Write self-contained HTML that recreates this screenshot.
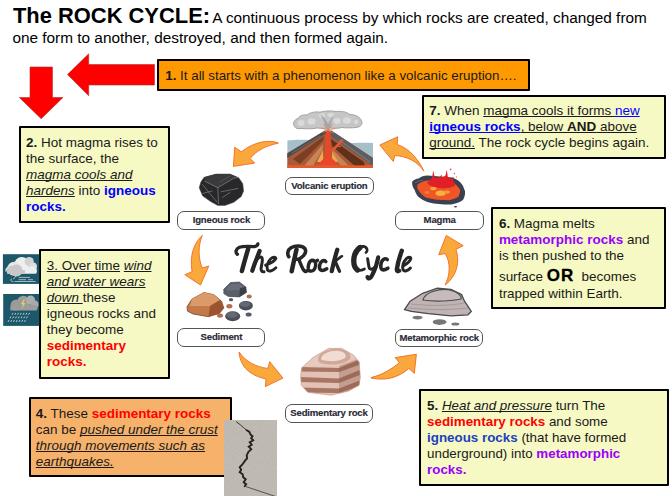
<!DOCTYPE html>
<html><head><meta charset="utf-8">
<style>
*{margin:0;padding:0;box-sizing:border-box}
html,body{width:672px;height:496px;overflow:hidden;background:#fff}
body{position:relative;font-family:"Liberation Sans",sans-serif;color:#111}
.a{position:absolute}
.box{position:absolute;border:2.1px solid #000;border-radius:1px}
.y{background:#f6f9c4}
.l{position:absolute;font-size:13.47px;line-height:16px;height:16px;white-space:nowrap;color:#1a1a1a}
u{text-decoration:underline;text-underline-offset:1px;text-decoration-skip-ink:none;text-decoration-thickness:1px}
.r{color:#ff0000;font-weight:bold}
.bl{color:#0000ff;font-weight:bold}
.pu{color:#9900ff;font-weight:bold}
.lbl{position:absolute;border:1.6px solid #555;border-radius:7px;background:#fff;font-weight:bold;font-size:9.6px;color:#2a2a36;text-align:center;letter-spacing:-0.2px;-webkit-text-stroke:0.15px #2a2a36}
</style></head><body>

<!-- title -->
<div class="a" style="left:13px;top:2px;white-space:nowrap;color:#000">
  <div style="height:26px;line-height:27px"><span style="font-size:21.9px;font-weight:bold">The ROCK CYCLE:</span><span style="font-size:15.34px;margin-left:-1.2px"> A continuous process by which rocks are created, changed from</span></div>
  <div style="font-size:15.36px;height:20px;line-height:20px;margin-left:-0.6px">one form to another, destroyed, and then formed again.</div>
</div>

<!-- red arrows -->
<svg class="a" style="left:0;top:0" width="672" height="496">
  <polygon points="67.5,74.5 88.7,53.8 88.7,64.5 154.5,64.5 154.5,85 88.7,85 88.7,95.8" fill="#ff0000" stroke="#b03030" stroke-width="0.6"/>
  <polygon points="30,67 52.5,67 52.5,97.5 63,97.5 41.2,118.8 19.3,97.5 30,97.5" fill="#ff0000" stroke="#b03030" stroke-width="0.6"/>
</svg>

<!-- box 1 -->
<div class="box" style="left:157.2px;top:59.1px;width:372.50px;height:31.70px;background:#ff9900"></div>
<div class="l" style="left:165.30px;top:68.30px"><span style="font-size:13.33px"><b>1.</b> It all starts with a phenomenon like a volcanic eruption….</span></div>

<!-- box 2 -->
<div class="box" style="left:18.8px;top:126.0px;width:151.10px;height:96.90px;background:#f6f9c4"></div>
<div class="l" style="left:26.10px;top:135.20px"><b>2.</b> Hot magma rises to</div>
<div class="l" style="left:26.10px;top:151.15px">the surface, the</div>
<div class="l" style="left:26.10px;top:167.10px"><i><u>magma cools and</u></i></div>
<div class="l" style="left:26.10px;top:183.05px"><i><u>hardens</u></i> into <span class="bl">igneous</span></div>
<div class="l" style="left:26.10px;top:199.00px"><span class="bl">rocks.</span></div>

<!-- box 3 -->
<div class="box" style="left:39.1px;top:249.3px;width:130.80px;height:129.40px;background:#f6f9c4"></div>
<div class="l" style="left:46.70px;top:258.30px"><u>3. Over time</u> <i><u>wind</u></i></div>
<div class="l" style="left:46.70px;top:274.25px"><i><u>and water wears</u></i></div>
<div class="l" style="left:46.70px;top:290.20px"><i><u>down </u></i>these</div>
<div class="l" style="left:46.70px;top:306.15px">igneous rocks and</div>
<div class="l" style="left:46.70px;top:322.10px">they become</div>
<div class="l" style="left:46.70px;top:338.05px"><span class="r">sedimentary</span></div>
<div class="l" style="left:46.70px;top:354.00px"><span class="r">rocks.</span></div>

<!-- box 4 -->
<div class="box" style="left:28.5px;top:397.1px;width:203.60px;height:80.40px;background:#f6b26b"></div>
<div class="l" style="left:35.80px;top:406.30px"><b>4.</b> These <span class="r">sedimentary rocks</span></div>
<div class="l" style="left:35.80px;top:422.25px">can be <i><u>pushed under the crust</u></i></div>
<div class="l" style="left:35.80px;top:438.20px"><i><u>through movements such as</u></i></div>
<div class="l" style="left:35.80px;top:454.15px"><i><u>earthquakes.</u></i></div>

<!-- box 5 -->
<div class="box" style="left:419.3px;top:389.1px;width:249.60px;height:96.60px;background:#f6f9c4"></div>
<div class="l" style="left:427.00px;top:398.30px;font-size:13.38px"><b>5.</b> <i><u>Heat and pressure</u></i> turn The</div>
<div class="l" style="left:427.00px;top:414.25px;font-size:13.38px"><span class="r">sedimentary rocks</span> and some</div>
<div class="l" style="left:427.00px;top:430.20px;font-size:13.38px"><span class="bl" style="color:#1c40c0">igneous rocks</span> (that have formed</div>
<div class="l" style="left:427.00px;top:446.15px;font-size:13.38px">underground) into <span class="pu">metamorphic</span></div>
<div class="l" style="left:427.00px;top:462.10px;font-size:13.38px"><span class="pu">rocks.</span></div>

<!-- box 6 -->
<div class="box" style="left:491.3px;top:207.1px;width:174.90px;height:102.40px;background:#f6f9c4"></div>
<div class="l" style="left:498.90px;top:216.40px"><b>6.</b> Magma melts</div>
<div class="l" style="left:498.90px;top:232.10px"><span class="pu">metamorphic rocks</span> and</div>
<div class="l" style="left:498.90px;top:248.20px">is then pushed to the</div>
<div class="l" style="left:498.90px;top:268.00px">surface <b style="font-size:17px;color:#000;-webkit-text-stroke:0.3px #000;letter-spacing:0.9px">OR</b>&nbsp; becomes</div>
<div class="l" style="left:498.90px;top:285.90px">trapped within Earth.</div>

<!-- box 7 -->
<div class="box" style="left:422.35px;top:94.5px;width:243.75px;height:64.40px;background:#f6f9c4"></div>
<div class="l" style="left:429.30px;top:103.10px"><b>7.</b> When <u>magma cools it forms </u><u style="color:#0000ff">new</u></div>
<div class="l" style="left:429.30px;top:119.10px"><u style="color:#0000ff"><b>igneous rocks</b></u><u>, below <b>AND</b> above</u></div>
<div class="l" style="left:429.30px;top:135.00px"><u>ground.</u> The rock cycle begins again.</div>
<!-- center graphics -->
<svg class="a" style="left:0;top:0" width="672" height="496">
  <defs>
    <clipPath id="vclip"><rect x="287.5" y="108" width="85.5" height="60"/></clipPath>
  </defs>
  <!-- orange arrows -->
  <g fill="#f9a83c" stroke="#f26a22" stroke-width="0.9" stroke-linejoin="round">
    <path d="M278.4,143.1 C270,139.5 255,141 241.3,151.8 L234.7,147.3 L233.4,166.4 L254.7,163.1 L250.1,158.5 C257,150 266,146 278.4,143.1 Z"/>
    <path d="M202.3,235.4 C195,242 189,254 192.1,271.7 L184.8,274.7 L200.5,285 L208.8,266 L202.3,268 C198,258 198,246 202.3,235.4 Z"/>
    <path d="M239.1,352 C246,362 256,367 267.9,368.4 L269.7,361.7 L283,378.1 L265.3,386.6 L266.1,379 C252,376 240,368 239.1,352 Z"/>
    <path d="M371,377.6 C382,375 392,369 399.3,362.6 L395.2,357.6 L416.4,354.25 L414.3,373.4 L408.9,368.4 C398,378 385,381 371,378 Z"/>
    <path d="M445.1,285 C450,276 451,262 445.1,253.6 L438.7,254.8 L446.3,235.4 L463.2,245.7 L456,249.3 C460,262 457,276 445.1,285 Z"/>
    <path d="M423.8,171.1 C419,160 409,148 397.2,144.5 L397.7,136.8 L379.8,145 L393.3,161.4 L394.8,155.6 C407,156 418,162 423.8,171.1 Z"/>
  </g>

  <!-- volcano -->
  <g transform="translate(284,108)">
    <!-- sky/sea -->
    <path d="M3.4,32.5 C10,31.5 18,31.5 26,32 L30,60 L3.4,60 Z" fill="#a6c0ca"/>
    <path d="M62,35.5 C72,34.5 80,34.8 89,35 L89,60 L62,60 Z" fill="#a6c0ca"/>
    <!-- smoke column -->
    <!-- cloud -->
    <path d="M10.5,18.5 C8.5,15.5 10,11.5 14,10.5 C15.5,7.5 19,6.5 23,7 C26,4 33,3.5 36,4.2 C40,2.8 48,2.5 52,3.6 C57,3 62,3.5 66,6.5 C71,6.5 76.5,9 77.5,13 C79,16 77,19 72,19.5 C67,20 62,20 58,19.5 C54,20.5 50,20.5 46,20 C42,20.5 37,20.5 33,20 C28,21 22,21 18,20.5 C14,21 11.5,20.5 10.5,18.5 Z" fill="#c6c6c6" stroke="#9a9a9a" stroke-width="0.9"/>
    <g fill="#dadada">
      <ellipse cx="17" cy="15" rx="3.5" ry="3"/><ellipse cx="27.5" cy="13.5" rx="4" ry="3.2"/><ellipse cx="38" cy="7.5" rx="3" ry="2.2"/>
      <ellipse cx="53" cy="13" rx="3.5" ry="3"/><ellipse cx="63" cy="12.5" rx="4" ry="3.3"/><ellipse cx="72" cy="14" rx="2.2" ry="2.2"/><ellipse cx="47" cy="7" rx="3.5" ry="2"/>
    </g>
    <path d="M36,6 C39,10 41,16 42.5,22 L45.5,22 C46.5,16 48,10 51,5.5 C48,9 46.5,12 44,16 C42,12 39,8 36,6 Z" fill="#a6a6a6"/>
    <!-- volcano body -->
    <path d="M3.4,45.2 L41,22.6 L47.3,22.6 L89,50 L89,60 L3.4,60 Z" fill="#a85a36"/>
    <!-- left dark crust -->
    <path d="M3.4,45.2 L41,22.6 L42.5,25 L3.4,50 Z" fill="#4c4c50"/>
    <path d="M8,45 L36,28" stroke="#8a8a8a" stroke-width="0.5"/>
    <!-- right crust -->
    <path d="M47.3,22.6 L89,50 L89,58 L46.5,28 Z" fill="#5e5e62"/>
    <path d="M55,32 L86,54" stroke="#8e8e90" stroke-width="0.7"/>
    <!-- left layers -->
    <path d="M9,51 L40,28 L39,33 L16,56 Z" fill="#7a3f24"/>
    <path d="M20,58 L39,36 L38.5,42 L29,58 Z" fill="#c98456"/>
    <path d="M33,54 L39,42 L39.5,54 Z" fill="#efa752"/>
    <!-- right layers -->
    <path d="M47,31 L80,54 L81,59 L72,59 L48,38 Z" fill="#5e311d"/>
    <path d="M48,41 L66,59 L58,59 L48,48 Z" fill="#c58450"/>
    <path d="M48,44 L54,53 L50,56 L48,54 Z" fill="#f0a552"/>
    <!-- dike -->
    <path d="M47,42 L58,31 L59.5,32.5 L49,44 Z" fill="#e35a34"/>
    <path d="M53,37 L57,38 L56.5,39.2 L52,38.5 Z" fill="#e35a34"/>
    <!-- conduit -->
    <path d="M42,22.5 L46,22.5 L46.5,35 L47.5,50 L54,56 L55,58 L32,58 L34,56 L40.5,50 L41.5,35 Z" fill="#e8472a"/>
    <rect x="3.4" y="57.3" width="85.6" height="2.6" fill="#e85a2e"/>
    <!-- sparks -->
    <g stroke="#ec7a50" stroke-width="0.7">
      <line x1="43" y1="21.5" x2="39.5" y2="16"/><line x1="45" y1="21.5" x2="48.5" y2="15.5"/><line x1="45.5" y1="22" x2="51" y2="20.5"/><line x1="42.5" y1="22" x2="37" y2="20"/><line x1="45" y1="23" x2="50" y2="25"/><line x1="43" y1="23" x2="38" y2="24.5"/>
    </g>
  </g>

  <!-- igneous rock -->
  <g>
    <path d="M204.1,177.3 L216.2,174 L229.9,174 L238.7,177.7 L242.8,183.7 L243.6,191 L241.2,196.6 L233.9,202.3 L225,205.5 L217.8,205.5 L210.5,201.5 L202.5,195.8 L199.2,187.7 L200.8,182.1 Z" fill="#28282a" stroke="#505052" stroke-width="0.5"/>
    <path d="M204.1,177.3 L216.2,174 L229.9,174 L238.7,177.7 L233.9,178.1 L217.8,187.7 L204.9,181.3 Z" fill="#3a3a3c"/>
    <g stroke="#9a9a9c" stroke-width="0.55" fill="none" stroke-linecap="round">
      <path d="M204.9,181.3 L217.8,187.7 L233.9,178.1 L238,177.5"/>
      <path d="M217.8,187.7 L218.6,203.9"/>
      <path d="M202.5,184.5 L209.7,193.4 L217,202"/>
      <path d="M202.8,193.4 L212.1,191"/>
      <path d="M221,191.8 L237.9,188.5"/>
      <path d="M222.6,197.4 L229.9,192.6"/>
      <path d="M220,182 L230,176" stroke="#6a6a6c"/>
    </g>
  </g>

  <!-- magma -->
  <g>
    <path d="M412.4,181.3 C414,179.5 416,178.8 418.6,178.4 C421,176.5 424,175.8 427.3,175.5 C432,176 436,176.3 439.9,176.5 C444,176.8 448,177 452.5,177.5 C456,179 458.5,180.5 460.2,182.3 C462.5,184.5 463.5,186.5 464.1,189.1 C465,190.5 465.2,192 465,193.9 C464.8,196 464,198 463.1,199.7 C461.5,201 460,202 458.3,202.6 C455.5,203.8 453,204.3 450.6,204.6 C446,204.6 442.5,204.5 439,204.1 C435.5,203.8 432,203.3 429.3,202.6 C426.5,201.6 424.5,200.8 422.5,199.7 C420.5,198.4 418.5,197 417.2,195.4 C416,193.5 415.2,192 414.8,190 C413.5,188.5 412.8,187 412.4,185.2 C412,183.8 412,182.5 412.4,181.3 Z" fill="#3c4150"/>
    <path d="M415,183 C418,181 421,180 423,180.5" stroke="#6a6e7a" stroke-width="0.8" fill="none"/>
    <path d="M417.7,184.2 C421,182 424,180.8 427.3,180.4 C431.5,180.5 436,180.7 439.9,180.9 C444.5,181.5 449,182 453.5,182.8 C456.5,185 458.8,187.5 460.2,190 C460,192.5 459.5,194.8 458.3,196.8 C455.5,198.5 452.5,199.5 449.6,200.2 C445.5,200.2 441,200 437,199.7 C433.5,199 430,198.5 426.4,197.8 C424,196.5 422,194.8 420.6,193 C419,191.5 418,189.8 417.2,188.1 C417,186.8 417.2,185.5 417.7,184.2 Z" fill="#ef5526"/>
    <path d="M427,183 C428.5,181 430.5,179.5 432,178.5 L433.2,170.5 L434.8,177.8 C436.5,178 438.5,177.8 440,177 L441.5,174.5 L442,177.2 C443.5,176.8 444.5,176 445.5,175.5 L446.8,169.8 L447.8,176.8 C449,177.5 450.5,178.5 451.5,179 L453.5,176.5 L453,180.5 C455,182.5 455.5,184.5 454.5,186 C450,188 445,188.5 440,188 C434,187.5 429.5,186 427,183 Z" fill="#e21f26"/>
    <ellipse cx="433.3" cy="188.5" rx="3.2" ry="1.8" fill="#f7a43a"/>
    <ellipse cx="440.5" cy="193.2" rx="5" ry="2.6" fill="#f8b040"/>
    <ellipse cx="447" cy="192" rx="3" ry="1.8" fill="#f49838"/>
    <ellipse cx="427" cy="192.5" rx="2.5" ry="1.4" fill="#f37a30"/>
    <circle cx="450.6" cy="169.5" r="0.9" fill="#e06060"/><circle cx="454.4" cy="173.6" r="0.8" fill="#e07070"/><circle cx="456.4" cy="177" r="0.7" fill="#e08080"/>
    <ellipse cx="455.5" cy="206.8" rx="1.6" ry="0.8" fill="#3c4150"/>
  </g>

  <!-- sediment -->
  <g>
    <path d="M187,306.8 L191.9,299.1 L204,292.5 L213.9,294.7 L221.6,301.3 L223.8,307.9 L219.4,313.4 L208.4,316.7 L193,314 L187.5,311.2 Z" fill="#c47a48" stroke="#6a3a24" stroke-width="0.7"/>
    <path d="M191.9,299.1 L204,292.5 L213.9,294.7 L220,300 L210,306 L190,306 Z" fill="#dc9a68"/>
    <path d="M210,306 L220,300 L223.8,307.9 L219.4,313.4 L208.4,316.7 Z" fill="#9a5530"/>
    <path d="M223.8,289.2 L230.5,282.6 L239.3,282 L245.9,287 L246.4,292.5 L239.3,296.9 L228.3,296.4 L223.8,293.6 Z" fill="#5a5e6a" stroke="#3a3c44" stroke-width="0.6"/>
    <path d="M226,289 L231,284 L239,283.5 L244,287 L238,290 L228,290.5 Z" fill="#6a6e78"/><path d="M240,288 L245.9,287 L246.4,292.5 L239.3,296.9 Z" fill="#3c3f48"/>
    <ellipse cx="245.9" cy="305.7" rx="7" ry="4.8" fill="#4a4e58"/><ellipse cx="245" cy="304.3" rx="5.3" ry="2.8" fill="#646873"/>
    <ellipse cx="232.7" cy="316.2" rx="7.5" ry="5" fill="#4a4e58"/><ellipse cx="232" cy="314.8" rx="5.6" ry="3" fill="#646873"/>
    <ellipse cx="249.2" cy="296.4" rx="2.6" ry="2" fill="#b07050"/>
    <ellipse cx="229.4" cy="306.3" rx="3" ry="2.2" fill="#b07050"/>
    <ellipse cx="220" cy="315.6" rx="3" ry="2.2" fill="#b07050"/>
    <ellipse cx="231" cy="299.7" rx="2.2" ry="1.6" fill="#555a64"/>
    <ellipse cx="248.6" cy="314.5" rx="3" ry="2" fill="#555a64"/>
  </g>

  <!-- sedimentary rock -->
  <g>
    <clipPath id="sclip"><path d="M301.8,367.7 L313.5,357.2 L328.7,348.4 L341.6,348.4 L353.3,354.9 L359.1,361.9 L360.3,377.1 L359.1,385.2 L348.6,391.1 L331.1,395.2 L307.7,392.3 L301.3,385.2 L300.7,375.9 Z"/></clipPath>
    <g clip-path="url(#sclip)">
      <rect x="298" y="345" width="66" height="55" fill="#e2c2b4"/>
      <path d="M296,367 L312,357 L330,347.5 L345,348 L357,357 L340,366 Z" fill="#e6cabd"/>
      <path d="M318,360 C318,352 330,348 340,349 C348,350 352,355 350,359 C346,363 338,365 330,364.5 C323,364 318,363 318,360 Z" fill="#cfa898"/>
      <path d="M321,359 C322,353 331,350 339,351 C345,352 347,355 345,358 C340,361 334,361.5 328,361 C324,360.5 321,360 321,359 Z" fill="#f0dcd2"/>
      <g fill="#a87464">
        <path d="M298,367 L339,368 L361,359 L362,364 L339,372 L298,371.5 Z"/>
        <path d="M298,377 L339,378.5 L362,369 L362,374 L339,383 L298,382 Z"/>
        <path d="M298,387.5 L339,388.5 L362,379.5 L362,385 L339,393 L298,392.5 Z"/>
      </g>
      <path d="M339,366 L361,358 L364,400 L339,400 Z" fill="#8a5848" opacity="0.35"/>
    </g>
    <path d="M301.8,367.7 L313.5,357.2 L328.7,348.4 L341.6,348.4 L353.3,354.9 L359.1,361.9 L360.3,377.1 L359.1,385.2 L348.6,391.1 L331.1,395.2 L307.7,392.3 L301.3,385.2 L300.7,375.9 Z" fill="none" stroke="#c89c8c" stroke-width="0.7"/>
  </g>

  <!-- metamorphic rock -->
  <g>
    <path d="M404.5,309.7 L410.2,301.2 L422.6,293.3 L437.3,288.2 L450.9,289.4 L461.6,294.4 L464.5,301.2 L471.3,311.4 L467.9,314.8 L450.9,315.9 L428.3,313.7 L411.3,311.4 Z" fill="#bfb3b3" stroke="#4a4a4a" stroke-width="1.3"/>
    <path d="M423,300 C425,292 440,288 450,290 C458,292 462,296 461,299 C452,301 435,302 423,300 Z" fill="#c6baba" stroke="#4a4a4a" stroke-width="1.2"/>
    <g stroke="#8a8080" stroke-width="0.5" fill="none">
      <path d="M411,304 C430,306 450,306 464,303"/><path d="M408,308 C430,310 450,310 468,308"/>
    </g>
    <ellipse cx="417.5" cy="317.6" rx="5" ry="1.8" fill="#777"/>
    <ellipse cx="439.6" cy="322.1" rx="7" ry="2.8" fill="#777"/>
    <ellipse cx="455.4" cy="324" rx="4" ry="1.5" fill="#777"/>
  </g>

  <!-- script title -->
  <g fill="none" stroke="#262626" stroke-linecap="round" stroke-linejoin="round">
    <!-- T -->
    <path d="M237.4,254.3 C235,252.5 235.8,249 239.4,247.3 C243,245.8 249,246.2 254.3,246.6 C256,246.5 257.5,245.5 257.9,243.9" stroke-width="3.33"/>
    <path d="M248.2,248.6 C246,256 243.5,265 241.9,271" stroke-width="4.48"/>
    <!-- h -->
    <path d="M259.6,251 C257,258 254,265 252.3,270.7" stroke-width="4.25"/>
    <path d="M254.3,263.8 C256.5,259.5 259,256.8 260.8,257 C263.5,257.5 262,263 261.2,267.5 C260.8,270 261.5,272 264,271.8" stroke-width="2.99"/>
    <!-- e -->
    <path d="M265.6,265.2 C270,263.5 275,260.5 275.8,258.6 C276,256.8 273,256.7 271,258.5 C267.5,261.5 266.3,267 267.5,270 C268.8,272.3 273,270.5 275.9,267.7" stroke-width="2.88"/>
    <!-- R -->
    <path d="M288.8,256.7 C287,254 287.5,250 291,247.8 C295,245.5 302,245.3 304.8,248.5 C306.8,251.5 305,255.5 300,258.5 C298.5,259.3 297,259.4 296.5,259.2" stroke-width="3.56"/>
    <path d="M296.5,249.5 C295,256 293,265 291.7,271.2" stroke-width="4.48"/>
    <path d="M298.8,259.5 C300.5,263 302,268 304,270.5 C305,271.5 306.3,271.5 307,270.8" stroke-width="3.45"/>
    <!-- o -->
    <path d="M312.5,260.3 C309,260.5 307.8,266 308.3,268.8 C309,272 313.5,272 315,268 C316.5,264 315.5,260.5 312.5,260.3 C314,261.5 316,261.5 317.5,260.3" stroke-width="3.45"/>
    <!-- c -->
    <path d="M325.8,261.5 C323.5,259.5 320,261.5 319.5,266 C319,270 321.5,272 326.8,268.8" stroke-width="3.56"/>
    <!-- k -->
    <path d="M337.3,249.7 C335,257 333,265 331.8,271.2" stroke-width="4.25"/>
    <path d="M333.6,263.2 C336.5,260.5 339.5,257.5 342,256.2" stroke-width="2.53"/>
    <path d="M335.4,262 C337,265 338,268.5 339.5,271.2" stroke-width="3.33"/>
    <!-- C -->
    <path d="M366,252.5 C368,251 367.5,246.8 363,246.4 C358,246 354,252.5 353.6,259.5 C353.3,265 355.5,270.5 359,270.5 C361.5,270.5 363,269.8 364.5,269" stroke-width="2.64"/>
    <path d="M360,247.5 C356.5,250 354.2,254.5 353.8,259.5 C353.5,264 354.8,268 357.5,270" stroke-width="5.29"/>
    <!-- y -->
    <path d="M367.6,258.8 C368.3,262 368.5,266.5 369.5,268.5 C371,270 373.5,268.8 375.2,266.6" stroke-width="2.99"/>
    <path d="M378.2,257.4 C377,264 374.5,271 372,275.5 C370.5,278.5 368,279.5 367.5,277" stroke-width="4.14"/>
    <!-- c -->
    <path d="M387.3,259.5 C385,257.6 381,260 380.8,265.5 C380.5,269.5 382.5,271.5 387.9,268.2" stroke-width="3.56"/>
    <!-- l -->
    <path d="M401.8,250.8 C399.5,257 397.5,264 396.8,269.5 C396.8,271.3 398,271.5 399,270.8" stroke-width="4.37"/>
    <!-- e -->
    <path d="M403.6,265.8 C407,264 410.5,260.5 410.8,258.5 C410.8,256.5 408,257 406.5,258.5 C403,262 402,267 403,269.8 C404.3,272 408,270.8 410.4,268" stroke-width="2.99"/>
  </g>

  <!-- weather icons -->
  <rect x="2.9" y="254.2" width="36.4" height="29.7" fill="#1d586a"/>
  <g>
    <circle cx="21.8" cy="264.5" r="7.5" fill="#eeeeee"/>
    <circle cx="29.2" cy="261.5" r="4.6" fill="#d2d2d2"/>
    <circle cx="33.2" cy="266.2" r="3.8" fill="#dedede"/>
    <path d="M14,273.8 L36,273.8 C37.5,272 37.5,268 34,266.5 L14,266.5 Z" fill="#eeeeee"/>
    <circle cx="14.2" cy="268.8" r="7" fill="#e6e6e6"/>
    <circle cx="16.5" cy="270.5" r="6" fill="#c8c8c8"/>
    <circle cx="10.5" cy="270" r="4" fill="#c9c9c9"/>
    <path d="M7,273.8 L25,273.8 L25,270 L7,270 Z" fill="#c8c8c8"/>
    <path d="M6,271.5 C5.5,270 6.5,267.5 9,267" stroke="#e6e6e6" stroke-width="1.2" fill="none"/>
    <g stroke="#c6d0d4" stroke-width="0.8" fill="none">
      <path d="M18.5,277.4 L30,277.4"/><path d="M18.5,279.7 L26,279.7"/><path d="M28,279.7 L33,279.7"/><path d="M14.5,281.5 L35.5,281.5"/>
      <path d="M16.5,274.5 L15,277.5 L13,279.2"/><path d="M13.5,281.5 C10.5,282 10,279 12,278.8"/>
    </g>
  </g>
  <rect x="3.2" y="294" width="36.1" height="31.9" fill="#1d586a"/>
  <g>
    <circle cx="23.4" cy="302" r="6.3" fill="#9c9c9c"/>
    <circle cx="30.6" cy="300.2" r="4.6" fill="#adadad"/>
    <circle cx="34.5" cy="304.6" r="4" fill="#a8a8a8"/>
    <circle cx="16.2" cy="305" r="5.6" fill="#9a9a9a"/>
    <path d="M10.6,310.6 L36.5,310.6 C38,309 38,306 35,305 L11,305 C10,307 10,309 10.6,310.6 Z" fill="#9c9c9c"/>
    <path d="M24,299.3 L21.2,304.3 L23.4,304.3 L21.5,308.8 L25.2,303.2 L23,303.2 L24.8,299.3 Z" fill="#f2e34a"/>
    <g stroke="#c9d9e2" stroke-width="0.9" fill="none"><path d="M13.00,312.90 L12.10,314.70"/><path d="M15.75,312.90 L14.85,314.70"/><path d="M18.50,312.90 L17.60,314.70"/><path d="M21.25,312.90 L20.35,314.70"/><path d="M24.00,312.90 L23.10,314.70"/><path d="M26.75,312.90 L25.85,314.70"/><path d="M29.50,312.90 L28.60,314.70"/><path d="M10.90,316.50 L10.00,318.30"/><path d="M13.65,316.50 L12.75,318.30"/><path d="M16.40,316.50 L15.50,318.30"/><path d="M19.15,316.50 L18.25,318.30"/><path d="M21.90,316.50 L21.00,318.30"/><path d="M24.65,316.50 L23.75,318.30"/><path d="M27.40,316.50 L26.50,318.30"/><path d="M8.90,320.10 L8.00,321.90"/><path d="M11.65,320.10 L10.75,321.90"/><path d="M14.40,320.10 L13.50,321.90"/><path d="M17.15,320.10 L16.25,321.90"/><path d="M19.90,320.10 L19.00,321.90"/><path d="M22.65,320.10 L21.75,321.90"/><path d="M25.40,320.10 L24.50,321.90"/></g>
  </g>
</svg>

<!-- crack photo -->
<svg class="a" style="left:223.8px;top:419.8px" width="53.2" height="77" viewBox="223.8 419.8 53.2 77">
  <defs>
    <filter id="nz" x="0" y="0" width="100%" height="100%">
      <feTurbulence type="fractalNoise" baseFrequency="0.9" numOctaves="1" seed="3"/>
      <feColorMatrix type="matrix" values="0 0 0 0 0.35  0 0 0 0 0.33  0 0 0 0 0.3  0 0 0 1.6 -0.75"/>
    </filter>
  </defs>
  <rect x="223.8" y="419.8" width="53.2" height="77" fill="#c0bcb3"/>
  <rect x="223.8" y="419.8" width="53.2" height="77" filter="url(#nz)" opacity="0.55"/>
  <g fill="none" stroke="#26221f" stroke-linejoin="miter" stroke-linecap="round">
    <path d="M236.2,421.6 L240,424.5 L243.5,427.5 L246.5,430" stroke-width="0.9"/>
    <path d="M246.5,430 L249,431.5 L250.5,434.5 L252.3,436 L251,438 L253,440 L249.5,442 L251.5,444.5 L248.5,446.5 L251,449 L248,452 L246.5,455.5 L247,458 L244.5,461 L242,464.5 L239.5,467 L241,469.5 L239.5,472 L242.5,474 L243,477 L245.5,479 L243.5,482 L246,484 L244.5,486" stroke-width="1.9"/>
    <path d="M244.5,486 L252,488.5 L261,491.5 L270,494.5 L276,496.5" stroke-width="0.9" stroke="#4a4540"/>
  </g>
</svg>
<!-- labels -->
<div class="lbl" style="left:285px;top:176.5px;width:88.7px;height:18.5px;line-height:16px">Volcanic eruption</div>
<div class="lbl" style="left:177.3px;top:210.5px;width:88.2px;height:19px;line-height:16.5px">Igneous rock</div>
<div class="lbl" style="left:395px;top:210.6px;width:89.3px;height:19px;line-height:16.5px">Magma</div>
<div class="lbl" style="left:177.3px;top:328.3px;width:88.2px;height:19.2px;line-height:16.5px">Sediment</div>
<div class="lbl" style="left:395px;top:328.5px;width:88.4px;height:18.5px;line-height:16px">Metamorphic rock</div>
<div class="lbl" style="left:285px;top:403.5px;width:88px;height:19px;line-height:16.5px">Sedimentary rock</div>


</body></html>
